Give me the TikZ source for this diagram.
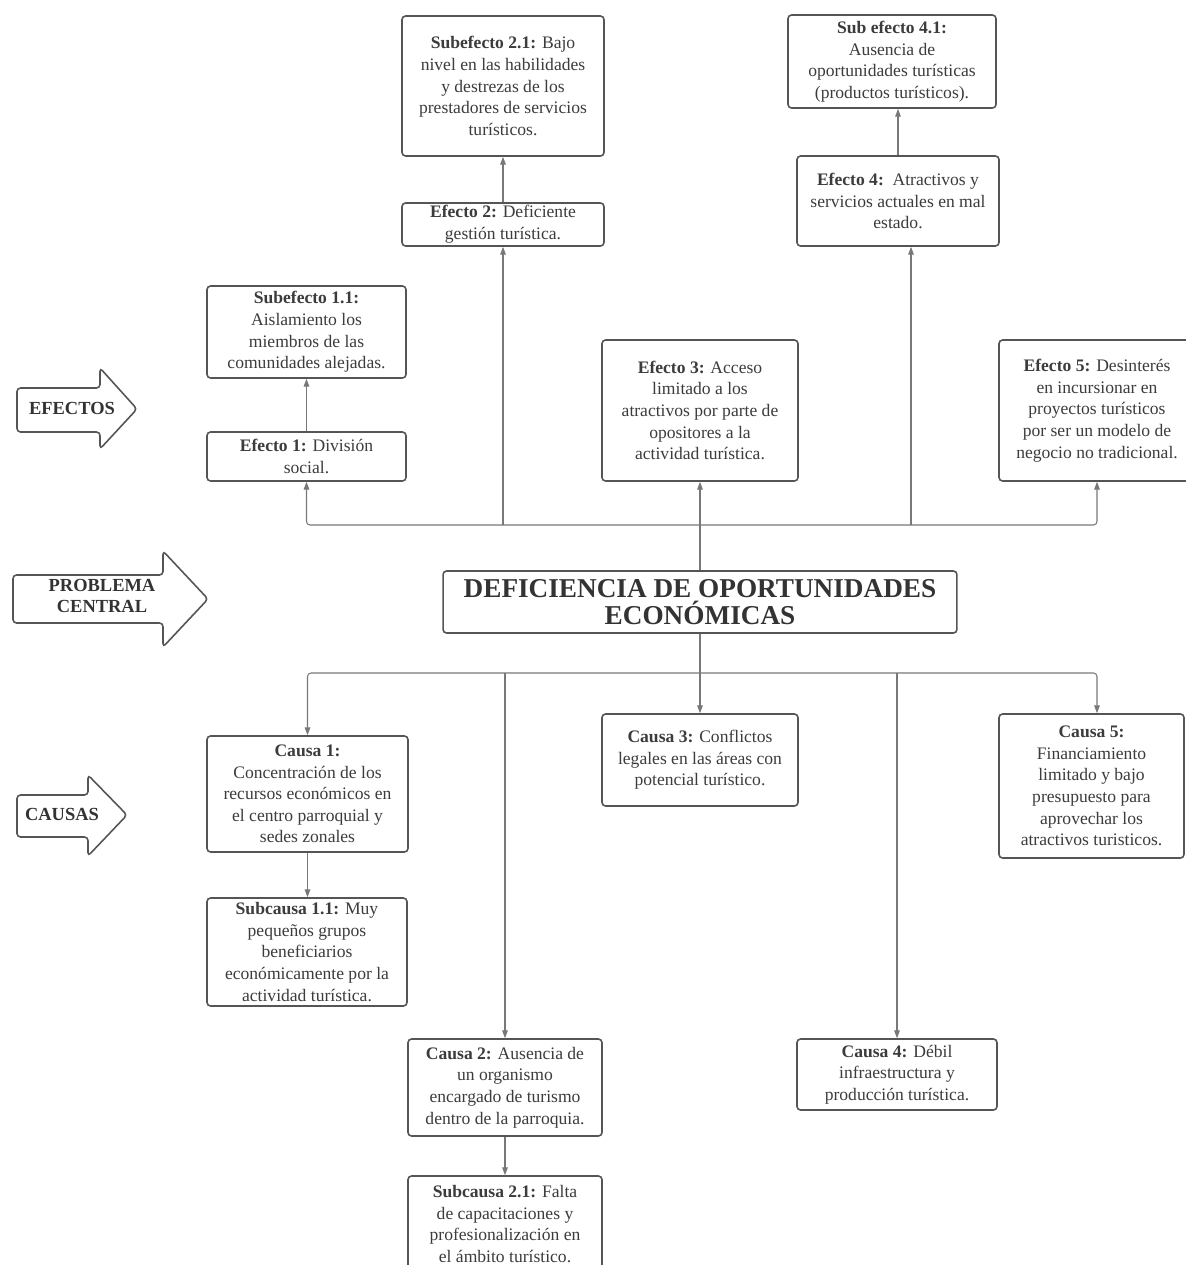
\documentclass[tikz,border=0pt]{standalone}
\usepackage{fontspec}
\setmainfont{Liberation Serif}
\usepackage{xcolor}
\definecolor{ink}{RGB}{60,60,60}
\definecolor{frame}{RGB}{85,85,85}
\definecolor{wire}{RGB}{120,120,120}
\usepackage{tikz}
\usetikzlibrary{
    arrows.meta,
    calc
}

\begin{document}
\begin{tikzpicture}[x=0.02cm, y=-0.02cm,
    box/.style={draw=frame, line width=0.9pt, rounded corners=2pt, fill=white,
        align=center, inner sep=2pt, text=ink,
        font=\fontsize{10}{12.3}\selectfont},
    conn/.style={draw=wire, line width=0.6pt, rounded corners=2pt,
        -{Triangle[length=4.5pt,width=3.2pt]}},
    bigarrow/.style={draw=frame, line width=0.9pt, rounded corners=2pt, fill=white},
    tag/.style={align=center, text=black!80,
        font=\fontsize{10.5}{12}\selectfont\bfseries}
  ]
  \useasboundingbox (0,0) rectangle (1186,1265);

  % Flechas laterales
  \draw[bigarrow] (17,388) -- (100,388) -- (100,368) -- (137,409) -- (100,449) -- (100,432) -- (17,432) -- cycle;
  \node[tag] (efectos) at (72,408) {EFECTOS};
  \draw[bigarrow] (13,575) -- (163,575) -- (163,551) -- (208,599) -- (163,647) -- (163,623) -- (13,623) -- cycle;
  \node[tag] (problema) at (102,596) {PROBLEMA\\CENTRAL};
  \draw[bigarrow] (17,795) -- (88,795) -- (88,775) -- (127,815) -- (88,856) -- (88,837) -- (17,837) -- cycle;
  \node[tag] (causas) at (62,814) {CAUSAS};

  % Problema central
  \node[box, minimum width=10.28cm, minimum height=1.24cm,
        font=\fontsize{15.5}{15.5}\selectfont\bfseries, text=black!80] (central) at (700,602)
        {DEFICIENCIA DE OPORTUNIDADES\\ECONÓMICAS};

  % Efectos
  \node[box, minimum width=3.98cm, minimum height=0.98cm] (ef1) at (306.5,456.5)
        {\textbf{Efecto 1:} División\\social.};
  \node[box, minimum width=3.98cm, minimum height=1.84cm] (sub11) at (306.5,332)
        {\textbf{Subefecto 1.1:}\\Aislamiento los\\miembros de las\\comunidades alejadas.};
  \node[box, minimum width=4.04cm, minimum height=0.86cm, inner sep=1pt] (ef2) at (503,224.5)
        {\textbf{Efecto 2:} Deficiente\\gestión turística.};
  \node[box, minimum width=4.04cm, minimum height=2.8cm] (sub21) at (503,86)
        {\textbf{Subefecto 2.1:} Bajo\\nivel en las habilidades\\y destrezas de los\\prestadores de servicios\\turísticos.};
  \node[box, minimum width=3.92cm, minimum height=2.82cm] (ef3) at (700,410.5)
        {\textbf{Efecto 3:} Acceso\\limitado a los\\atractivos por parte de\\opositores a la\\actividad turística.};
  \node[box, minimum width=4.04cm, minimum height=1.8cm] (ef4) at (898,201)
        {\textbf{Efecto 4:}\ \ Atractivos y\\servicios actuales en mal\\estado.};
  \node[box, minimum width=4.16cm, minimum height=1.86cm] (sub41) at (892,61.5)
        {\textbf{Sub efecto 4.1:}\\Ausencia de\\oportunidades turísticas\\(productos turísticos).};
  \node[box, minimum width=3.92cm, minimum height=2.82cm] (ef5) at (1097,410.5)
        {\textbf{Efecto 5:} Desinterés\\en incursionar en\\proyectos turísticos\\por ser un modelo de\\negocio no tradicional.};

  % Causas
  \node[box, minimum width=4.02cm, minimum height=2.32cm] (causa1) at (307.5,794)
        {\textbf{Causa 1:}\\Concentración de los\\recursos económicos en\\el centro parroquial y\\sedes zonales};
  \node[box, minimum width=4.0cm, minimum height=2.16cm] (subc11) at (307,952)
        {\textbf{Subcausa 1.1:} Muy\\pequeños grupos\\beneficiarios\\económicamente por la\\actividad turística.};
  \node[box, minimum width=3.92cm, minimum height=1.84cm] (causa3) at (700,760)
        {\textbf{Causa 3:} Conflictos\\legales en las áreas con\\potencial turístico.};
  \node[box, minimum width=3.7cm, minimum height=2.88cm] (causa5) at (1091.5,786)
        {\textbf{Causa 5:}\\Financiamiento\\limitado y bajo\\presupuesto para\\aprovechar los\\atractivos turisticos.};
  \node[box, minimum width=3.88cm, minimum height=1.94cm] (causa2) at (505,1087.5)
        {\textbf{Causa 2:} Ausencia de\\un organismo\\encargado de turismo\\dentro de la parroquia.};
  \node[box, minimum width=3.88cm, minimum height=1.92cm] (subc21) at (505,1224)
        {\textbf{Subcausa 2.1:} Falta\\de capacitaciones y\\profesionalización en\\el ámbito turístico.};
  \node[box, minimum width=4.0cm, minimum height=1.42cm] (causa4) at (897,1074.5)
        {\textbf{Causa 4:} Débil\\infraestructura y\\producción turística.};

  % Conectores superiores
  \coordinate (topbus) at (700,525);
  \draw[conn] (central.north) -- (ef3.south);
  \draw[conn] (topbus) -| (ef1.south);
  \draw[conn] (topbus) -| (ef5.south);
  \draw[conn] (ef2.south |- topbus) -- (ef2.south);
  \draw[conn] ([xshift=0.26cm]ef4.south |- topbus) -- ([xshift=0.26cm]ef4.south);
  \draw[conn] (ef1.north) -- (sub11.south);
  \draw[conn] (ef2.north) -- (sub21.south);
  \draw[conn] (ef4.north) -- (ef4.north |- sub41.south);

  % Conectores inferiores
  \coordinate (botbus) at (700,673);
  \draw[conn] (central.south) -- (causa3.north);
  \draw[conn] (botbus) -| (causa1.north);
  \draw[conn] (botbus) -| ([xshift=0.11cm]causa5.north);
  \draw[conn] (causa2.north |- botbus) -- (causa2.north);
  \draw[conn] (causa4.north |- botbus) -- (causa4.north);
  \draw[conn] (causa1.south) -- (causa1.south |- subc11.north);
  \draw[conn] (causa2.south) -- (subc21.north);
\end{tikzpicture}
\end{document}
